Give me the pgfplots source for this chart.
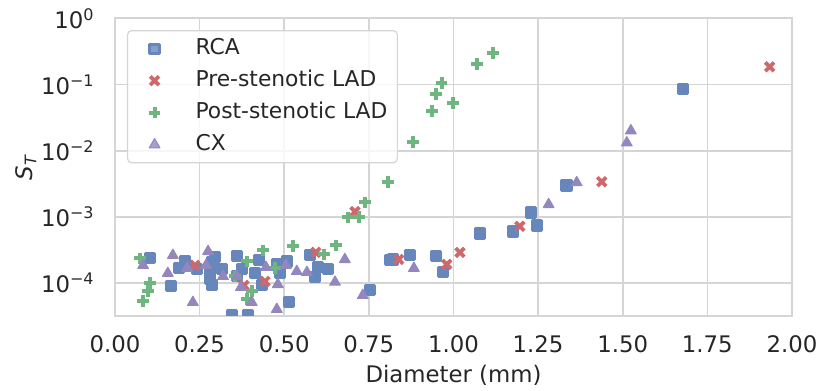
\documentclass[border=0pt]{standalone}
\usepackage{pgfplots}
\pgfplotsset{compat=1.18}
\usepackage{fontspec}
\setmainfont{DejaVu Sans}
\definecolor{cRCA}{HTML}{4C72B0}
\definecolor{cPre}{HTML}{C44E52}
\definecolor{cPost}{HTML}{55A868}
\definecolor{cCX}{HTML}{8172B2}
\colorlet{mRCA}{cRCA!85!white}
\colorlet{mPre}{cPre!85!white}
\colorlet{mPost}{cPost!85!white}
\colorlet{mCX}{cCX!85!white}
\definecolor{txt}{HTML}{262626}
\definecolor{gridc}{HTML}{D5D5D5}
\pgfplotsset{mylegend/.style={legend image code/.code={\path[draw=none,fill=none] (0pt,0pt) (29pt,0pt); \draw[##1] plot coordinates {(10.5pt,0pt)};}}}
\begin{document}
\begin{tikzpicture}[font=\fontsize{11.4}{13.7}\selectfont]
\useasboundingbox (-57.5pt,-37.6pt) rectangle (352pt,157.85pt);
\begin{axis}[
  at={(0,0)}, anchor=south west,
  scale only axis, width=338.5pt, height=148.6pt,
  xmin=0, xmax=2, ymode=log, ymin=3.2e-5, ymax=1,
  log basis y=10,
  xtick={0,0.25,...,2},
  ytick={1e-4,1e-3,1e-2,1e-1,1},
  yticklabels={10\textsuperscript{−4},10\textsuperscript{−3},10\textsuperscript{−2},10\textsuperscript{−1},10\textsuperscript{0}},
  minor ytick={}, minor xtick={},
  major tick length=0pt,
  /pgf/number format/assume math mode=true,
  xticklabel={\pgfmathprintnumber[fixed,fixed zerofill,precision=2]{\tick}},
  xticklabel style={anchor=base, yshift=-18.3pt, inner sep=0pt, text=txt},
  yticklabel style={anchor=east, xshift=-10pt, inner sep=0pt, text=txt},
  grid=major,
  grid style={draw=gridc, line width=0.8pt},
  axis line style={draw=gridc, line width=1pt},
  xlabel={Diameter (mm)},
  ylabel={\textit{S}\textsubscript{\textit{T}}},
  xlabel style={at={(axis description cs:0.5,0)}, anchor=base, yshift=-33.3pt, inner sep=0pt, text=txt},
  ylabel style={at={(axis description cs:-0.1315,0.5)}, anchor=center, inner sep=0pt, text=txt},
  legend cell align=left,
  legend style={at={(0.0177,0.961)}, anchor=north west, draw=gridc, line width=0.6pt,
    rounded corners=2pt, fill=white, fill opacity=0.8, text opacity=1, text=txt,
    font=\fontsize{10.9}{13}\selectfont,
    inner xsep=3pt, inner ysep=1pt, row sep=0pt, column sep=0pt,
    nodes={inner sep=2pt, text height=9pt, text depth=3pt}},
  clip marker paths=true,
]
\addplot[only marks, mylegend, mark=square*,
  mark options={mark size=2.3pt, line width=1.5pt, line join=round, draw=mRCA, fill=mRCA}] coordinates {
(0.103,2.36e-4) (0.165,8.9e-5) (0.189,1.67e-4) (0.207,2.12e-4) (0.242,1.61e-4)
(0.280,1.45e-4) (0.286,2.05e-4) (0.295,2.44e-4) (0.280,1.14e-4) (0.286,9.2e-5)
(0.316,1.61e-4) (0.345,3.3e-5) (0.360,2.53e-4) (0.375,1.61e-4) (0.360,1.26e-4)
(0.393,3.3e-5) (0.413,1.40e-4) (0.425,2.2e-4) (0.434,9.2e-5) (0.478,1.91e-4)
(0.487,1.40e-4) (0.508,2.12e-4) (0.514,5.1e-5) (0.576,2.62e-4) (0.590,1.22e-4)
(0.599,1.73e-4) (0.629,1.61e-4) (0.753,7.8e-5) (0.812,2.2e-4) (0.821,2.27e-4)
(0.871,2.62e-4) (0.948,2.53e-4) (0.968,1.45e-4) (1.078,5.6e-4) (1.175,6.0e-4)
(1.228,1.16e-3) (1.246,7.4e-4) (1.334,2.98e-3) (1.677,0.0865)
};
\addlegendentry{RCA}
\addplot[only marks, mylegend, mark=x,
  mark options={mark size=3.1pt, line width=1.9pt, draw=mPre}] coordinates {
(0.236,1.85e-4) (0.381,9.2e-5) (0.443,1.06e-4) (0.593,2.9e-4) (0.709,1.2e-3)
(0.838,2.27e-4) (0.980,1.91e-4) (1.019,2.9e-4) (1.196,7.2e-4) (1.438,3.4e-3)
(1.934,0.186)
};
\addlegendentry{Pre-stenotic LAD}
\addplot[only marks, mylegend, mark=+,
  mark options={mark size=2.9pt, line width=2pt, draw=mPost}] coordinates {
(0.074,2.36e-4) (0.103,9.9e-5) (0.097,7.5e-5) (0.083,5.3e-5) (0.437,3.1e-4)
(0.390,2.12e-4) (0.354,1.26e-4) (0.404,7.5e-5) (0.390,5.7e-5) (0.472,1.67e-4)
(0.526,3.6e-4) (0.617,2.7e-4) (0.652,3.7e-4) (0.688,9.8e-4) (0.720,1.0e-3)
(0.738,1.65e-3) (0.806,3.4e-3) (0.880,0.0137) (0.936,0.0402) (0.948,0.0727)
(0.965,0.106) (0.998,0.053) (1.069,0.206) (1.116,0.302)
};
\addlegendentry{Post-stenotic LAD}
\addplot[only marks, mylegend, mark=triangle*,
  mark options={mark size=3.1pt, line width=0.5pt, line join=round, draw=mCX, fill=mCX}] coordinates {
(0.083,1.85e-4) (0.171,2.62e-4) (0.156,1.40e-4) (0.230,5.1e-5) (0.213,1.67e-4)
(0.275,3.0e-4) (0.269,1.85e-4) (0.319,1.26e-4) (0.360,1.26e-4) (0.372,8.6e-5)
(0.404,5.1e-5) (0.446,1.73e-4) (0.481,9.5e-5) (0.478,4.0e-5) (0.505,1.85e-4)
(0.537,1.5e-4) (0.567,1.45e-4) (0.650,1.03e-4) (0.679,2.27e-4) (0.732,6.5e-5)
(0.883,1.67e-4) (1.281,1.54e-3) (1.364,3.3e-3) (1.512,0.0132) (1.524,0.0201)
};
\addlegendentry{CX}
\end{axis}
\end{tikzpicture}
\end{document}
